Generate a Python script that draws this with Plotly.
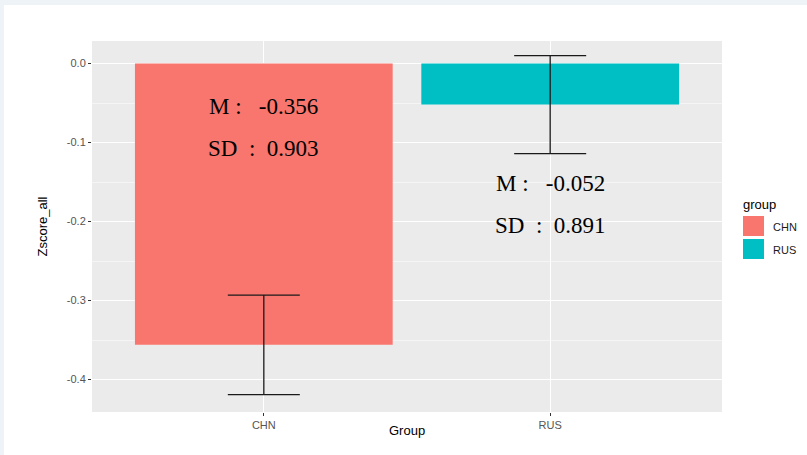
import plotly.graph_objects as go

groups = ["CHN", "RUS"]
means = [-0.356, -0.052]
sds = [0.903, 0.891]
ses = [0.063, 0.062]
colors = ["#F8766D", "#00BFC4"]
y_ticks = [0.0, -0.1, -0.2, -0.3, -0.4]
y_tick_labels = ["0.0", "-0.1", "-0.2", "-0.3", "-0.4"]

# layout geometry (pixels)
W, H = 807, 455
L, R, T, B = 92, 722, 41, 412
PW, PH = R - L, B - T


def px(x):
    return (x - L) / PW


def py(y):
    return (B - y) / PH


fig = go.Figure()
for g, m, se, c in zip(groups, means, ses, colors):
    fig.add_trace(go.Bar(
        x=[g], y=[m], marker=dict(color=c, line=dict(width=0)), width=0.9,
        error_y=dict(type="data", array=[se], visible=True, color="#1a1a1a",
                     thickness=1.3, width=36),
        showlegend=False, name=g,
    ))

NB = "&nbsp;"
annos = []
label_y_m = [-0.054, -0.152]
label_y_sd = [-0.107, -0.205]
serif = dict(family="Liberation Serif", size=23, color="black")
for g, m, s, ym, ys in zip(groups, means, sds, label_y_m, label_y_sd):
    annos.append(dict(x=g, y=ym, xref="x", yref="y", text=f"M :{NB*3}{m:.3f}",
                      showarrow=False, font=serif))
    annos.append(dict(x=g, y=ys, xref="x", yref="y", text=f"SD{NB*2}:{NB*2}{s:.3f}",
                      showarrow=False, font=serif))

# axis titles
annos.append(dict(x=px(407), y=py(440), xref="paper", yref="paper", text="Group", showarrow=False,
                  font=dict(family="Liberation Sans", size=13, color="black")))
annos.append(dict(x=px(32), y=py(227), xref="paper", yref="paper", text="Zscore_all", showarrow=False,
                  textangle=-90, font=dict(family="Liberation Sans", size=13, color="black")))

# legend (manual)
annos.append(dict(x=px(741), y=py(204), xref="paper", yref="paper", text="group", showarrow=False,
                  xanchor="left", font=dict(family="Liberation Sans", size=13, color="black")))
shapes = []
key_tops = [216, 239]
for g, c, kt in zip(groups, colors, key_tops):
    shapes.append(dict(type="rect", xref="paper", yref="paper", x0=px(743), x1=px(764),
                       y0=py(kt), y1=py(kt + 20), fillcolor=c, line=dict(width=0)))
    annos.append(dict(x=px(771), y=py(kt + 11), xref="paper", yref="paper", text=g, showarrow=False,
                      xanchor="left", font=dict(family="Liberation Sans", size=11, color="#1a1a1a")))

# outer frame strips
shapes.append(dict(type="rect", xref="paper", yref="paper", x0=px(0), x1=px(W), y0=py(5), y1=py(0),
                   fillcolor="#EEF3F8", line=dict(width=0), layer="below"))
shapes.append(dict(type="rect", xref="paper", yref="paper", x0=px(0), x1=px(4), y0=py(H), y1=py(0),
                   fillcolor="#EEF3F8", line=dict(width=0), layer="below"))

fig.update_layout(
    width=W, height=H,
    margin=dict(l=L, r=W - R, t=T, b=H - B, autoexpand=False),
    paper_bgcolor="white", plot_bgcolor="#EBEBEB",
    showlegend=False, bargap=0.1,
    annotations=annos, shapes=shapes,
    font=dict(family="Liberation Sans"),
    xaxis=dict(range=[-0.6, 1.6], showgrid=True, gridcolor="white", gridwidth=1.1,
               ticks="outside", ticklen=3, tickcolor="#333333", tickwidth=1,
               tickfont=dict(size=11, color="#555555"), zeroline=False, showline=False,
               fixedrange=True),
    yaxis=dict(range=[-0.441, 0.0285], tickvals=y_ticks, ticktext=y_tick_labels,
               showgrid=True, gridcolor="white", gridwidth=1.1,
               minor=dict(tickvals=[-0.05, -0.15, -0.25, -0.35], showgrid=True,
                          gridcolor="#F5F5F5", gridwidth=0.6, ticks=""),
               ticks="outside", ticklen=3, tickcolor="#333333", tickwidth=1,
               tickfont=dict(size=11, color="#555555"), zeroline=False, showline=False,
               fixedrange=True),
)

fig.write_html("out.html", config={"displayModeBar": False},
               post_script="document.body.style.margin='0px';")
